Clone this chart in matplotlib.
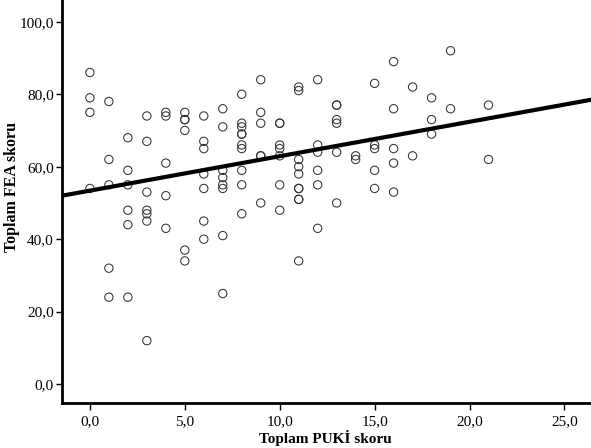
"""SPSS-style scatter: Toplam PUKİ skoru vs Toplam FEA skoru with fit line."""

import matplotlib
matplotlib.use("Agg")
import matplotlib.pyplot as plt
import numpy as np
from matplotlib.ticker import FuncFormatter

# PUKİ score (x) -> FEA scores (y) observed at that x
puki_0 = [86, 79, 75, 54]
puki_1 = [78, 62, 55, 32, 24]
puki_2 = [68, 59, 55, 48, 44, 24]
puki_3 = [74, 67, 53, 48, 47, 45, 12]
puki_4 = [75, 74, 61, 52, 43]
puki_5 = [75, 73, 73, 70, 37, 34]
puki_6 = [74, 67, 65, 58, 54, 45, 40]
puki_7 = [76, 71, 59, 57, 55, 54, 41, 25]
puki_8 = [80, 72, 71, 69, 69, 66, 65, 59, 55, 47]
puki_9 = [84, 75, 72, 63, 63, 50]
puki_10 = [72, 72, 66, 65, 63, 55, 48]
puki_11 = [82, 81, 62, 60, 58, 54, 54, 51, 51, 34]
puki_12 = [84, 66, 64, 59, 55, 43]
puki_13 = [77, 77, 73, 72, 64, 50]
puki_14 = [63, 62]
puki_15 = [83, 66, 65, 59, 54]
puki_16 = [89, 76, 65, 61, 53]
puki_17 = [82, 63]
puki_18 = [79, 73, 69]
puki_19 = [92, 76]
puki_21 = [77, 62]

groups = {
    0: puki_0, 1: puki_1, 2: puki_2, 3: puki_3, 4: puki_4, 5: puki_5,
    6: puki_6, 7: puki_7, 8: puki_8, 9: puki_9, 10: puki_10, 11: puki_11,
    12: puki_12, 13: puki_13, 14: puki_14, 15: puki_15, 16: puki_16,
    17: puki_17, 18: puki_18, 19: puki_19, 21: puki_21,
}

x_ticks = [0, 5, 10, 15, 20, 25]
y_ticks = [0, 20, 40, 60, 80, 100]


def comma_fmt(v, _pos):
    return f"{v:.1f}".replace(".", ",")


def main() -> int:
    x = np.concatenate([[k] * len(v) for k, v in groups.items()]).astype(float)
    y = np.concatenate([v for v in groups.values()]).astype(float)
    slope, intercept = np.polyfit(x, y, 1)

    plt.rcParams["font.family"] = ["Liberation Serif", "DejaVu Serif"]
    fig = plt.figure(figsize=(5.91, 4.48), dpi=100)
    ax = fig.add_axes([62 / 591, 45 / 448, 1 - 62 / 591, 1 - 45 / 448])

    xmin, xmax = -1.47, 26.4
    ax.scatter(x, y, s=36, facecolors="none", edgecolors="#333333",
               linewidths=0.75, zorder=3)
    xx = np.array([xmin, xmax])
    ax.plot(xx, intercept + slope * xx, color="black", linewidth=3, zorder=4)

    ax.set_xlim(xmin, xmax)
    ax.set_ylim(-5.2, 106)
    ax.set_xticks(x_ticks)
    ax.set_yticks(y_ticks)
    ax.xaxis.set_major_formatter(FuncFormatter(comma_fmt))
    ax.yaxis.set_major_formatter(FuncFormatter(comma_fmt))
    ax.tick_params(direction="out", length=4, width=1, labelsize=11,
                   colors="black", pad=2)
    ax.tick_params(axis="x", length=5, pad=4)
    for side in ("top", "right"):
        ax.spines[side].set_visible(False)
    for side in ("left", "bottom"):
        ax.spines[side].set_linewidth(2)

    ax.set_xlabel("Toplam PUKİ skoru", fontsize=11, fontweight="bold")
    ax.set_ylabel("Toplam FEA skoru", fontsize=11.5, fontweight="bold")
    ax.xaxis.set_label_coords(0.497, -0.067)
    ax.yaxis.set_label_coords(-0.08, 0.536)

    fig.savefig("out.png", dpi=100)
    plt.close(fig)
    return 0


if __name__ == "__main__":
    raise SystemExit(main())
